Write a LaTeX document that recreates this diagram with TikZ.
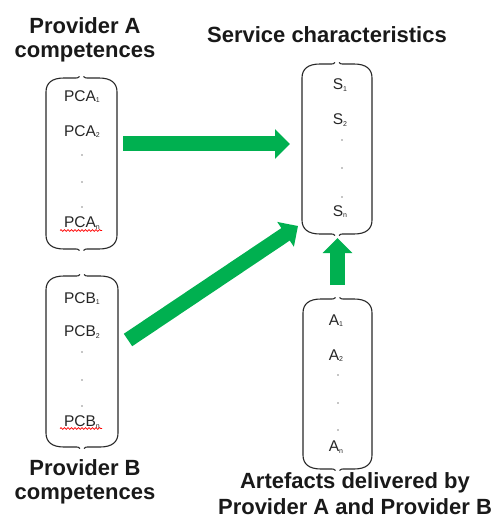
\documentclass[tikz,border=0pt]{standalone}
\usepackage{fontspec}
\setmainfont{Liberation Sans}
\usetikzlibrary{arrows.meta,calc,decorations.pathmorphing}
\definecolor{grn}{RGB}{0,176,80}
\definecolor{lineg}{RGB}{40,40,40}
\newcommand\sbs[1]{\raisebox{-1.5pt}{\fontsize{7}{8}\selectfont #1}}
\newcommand\bracebox[1]{%
  \draw[boxline]
    ([xshift=-2pt,yshift=1.5pt]#1.north) .. controls ([xshift=-3.5pt]#1.north) .. ([xshift=-8pt]#1.north)
    -- ([xshift=18pt]#1.north west) .. controls ([xshift=6pt]#1.north west) and ([yshift=-5pt]#1.north west) .. ([yshift=-14pt]#1.north west)
    -- ([yshift=14pt]#1.south west) .. controls ([yshift=5pt]#1.south west) and ([xshift=6pt]#1.south west) .. ([xshift=18pt]#1.south west)
    -- ([xshift=-8pt]#1.south) .. controls ([xshift=-3.5pt]#1.south) .. ([xshift=-2pt,yshift=-1.5pt]#1.south);
  \draw[boxline]
    ([xshift=2pt,yshift=1.5pt]#1.north) .. controls ([xshift=3.5pt]#1.north) .. ([xshift=8pt]#1.north)
    -- ([xshift=-18pt]#1.north east) .. controls ([xshift=-6pt]#1.north east) and ([yshift=-5pt]#1.north east) .. ([yshift=-14pt]#1.north east)
    -- ([yshift=14pt]#1.south east) .. controls ([yshift=5pt]#1.south east) and ([xshift=-6pt]#1.south east) .. ([xshift=-18pt]#1.south east)
    -- ([xshift=8pt]#1.south) .. controls ([xshift=3.5pt]#1.south) .. ([xshift=2pt,yshift=-1.5pt]#1.south);
}
\tikzset{
  boxarea/.style={inner sep=0pt, outer sep=0pt},
  boxline/.style={draw=lineg, line width=1.1pt},
  lab/.style={inner sep=0pt, anchor=base, font=\fontsize{15.5}{18}\selectfont, text=black!85},
  title/.style={inner sep=0pt, align=center, font=\fontsize{22}{24}\selectfont\bfseries, text=black!90},
  garrow/.style={draw=grn, line width=15pt, -{Triangle[length=15pt,width=29pt]}},
  dotc/.style={fill=black!45},
  spell/.style={draw=red, line width=0.7pt, decorate, decoration={snake, amplitude=0.9pt, segment length=3.5pt}}
}
\begin{document}
\begin{tikzpicture}[x=1pt,y=-1pt]
\useasboundingbox (0,0) rectangle (499,518);
% box areas
\node[boxarea, minimum width=71pt, minimum height=171pt] (pa) at (81.5,163.5) {};
\node[boxarea, minimum width=72pt, minimum height=171pt] (pb) at (82,361.5) {};
\node[boxarea, minimum width=70pt, minimum height=170pt] (s) at (337,149) {};
\node[boxarea, minimum width=69pt, minimum height=170pt] (art) at (337.5,384) {};
\bracebox{pa}
\bracebox{pb}
\bracebox{s}
\bracebox{art}
% titles
\node[title] (tpa) at (85,39.5) {Provider A\\competences};
\node[title] (ts) at (327,35) {Service characteristics};
\node[title] (tpb) at (85,481.5) {Provider B\\competences};
\node[title, font=\fontsize{22}{26}\selectfont\bfseries] (tart) at (355,493.5) {Artefacts delivered by\\Provider A and Provider B};
% labels Provider A
\node[lab] (pca1) at (82,101.5) {PCA\sbs{1}};
\node[lab] (pca2) at (82,136.5) {PCA\sbs{2}};
\node[lab] (pcan) at (82,228) {PCA\sbs{n}};
\fill[dotc] (82,155) circle (0.8pt) (82,182) circle (0.8pt) (82,207) circle (0.8pt);
\draw[spell] (60,230.5) -- (102,230.5);
% labels Provider B
\node[lab] (pcb1) at (82,303) {PCB\sbs{1}};
\node[lab] (pcb2) at (82,336.5) {PCB\sbs{2}};
\node[lab] (pcbn) at (82,426.5) {PCB\sbs{n}};
\fill[dotc] (82,352) circle (0.8pt) (82,380) circle (0.8pt) (82,406) circle (0.8pt);
\draw[spell] (60,428.5) -- (102,428.5);
% labels service
\node[lab] (s1) at (340,90) {S\sbs{1}};
\node[lab] (s2) at (340,125) {S\sbs{2}};
\node[lab] (sn) at (340,216.5) {S\sbs{n}};
\fill[dotc] (342,140) circle (0.8pt) (342,168) circle (0.8pt) (342,197) circle (0.8pt);
% labels artefacts
\node[lab] (a1) at (336,325) {A\sbs{1}};
\node[lab] (a2) at (336,360) {A\sbs{2}};
\node[lab] (an) at (336,451.5) {A\sbs{n}};
\fill[dotc] (338,375) circle (0.8pt) (338,403) circle (0.8pt) (338,430) circle (0.8pt);
% arrows
\draw[garrow] ($(pa.east)+(6,-19.5)$) -- ($(s.west)+(-12,-5)$);
\draw[garrow] ($(pb.east)+(10,-21.5)$) -- ($(s.south west)+(-4,-8)$);
\draw[garrow] ($(art.north)+(0,-14)$) -- ($(art.north |- s.south)+(0,4)$);
\end{tikzpicture}
\end{document}
